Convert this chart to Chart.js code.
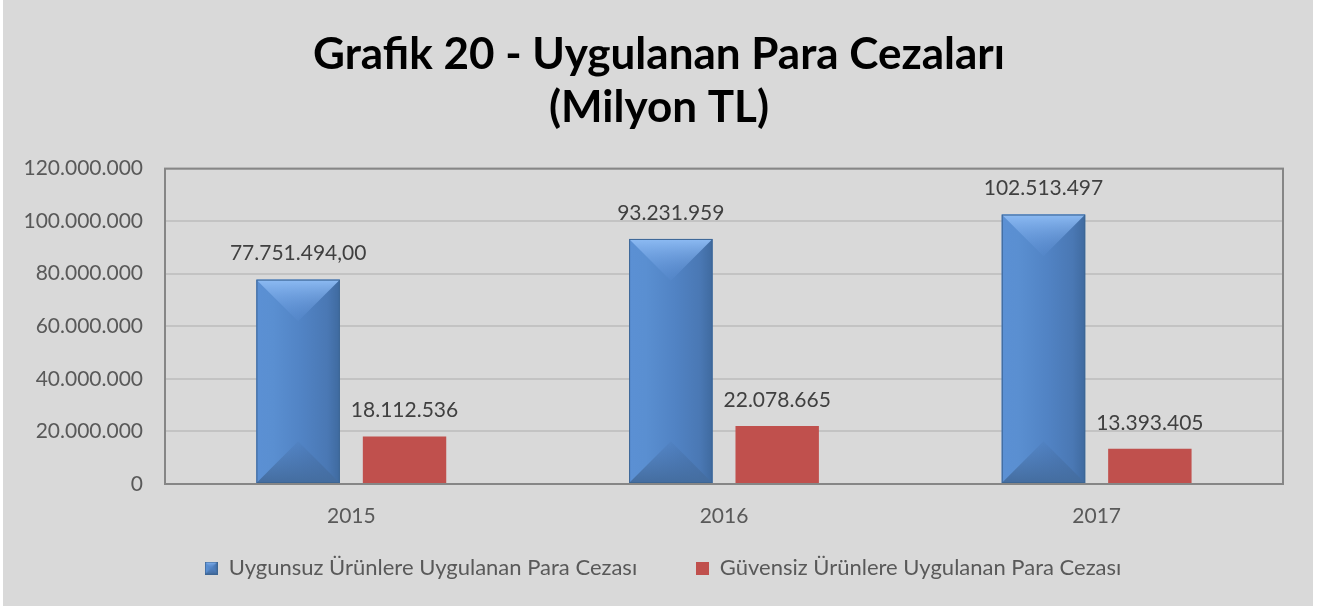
<!DOCTYPE html>
<html>
<head>
<meta charset="utf-8">
<script src="https://cdn.jsdelivr.net/npm/chart.js@4/dist/chart.umd.min.js"></script>
<style>
    body { margin: 0; background: #ffffff; }
    #wrap { position: absolute; left: 3px; top: 0; width: 1310px; height: 606px; background: #d9d9d9; }
</style>
</head>
<body>
<div id="wrap"><canvas id="chart"></canvas></div>
<script>
const years = ["2015", "2016", "2017"];
const uygunsuz = [77751494, 93231959, 102513497];
const guvensiz = [18112536, 22078665, 13393405];
const uygunsuzDecimals = [2, 0, 0];
const guvensizDecimals = [0, 0, 0];
const seriesNames = ["Uygunsuz Ürünlere Uygulanan Para Cezası", "Güvensiz Ürünlere Uygulanan Para Cezası"];
const yMax = 120000000;
const yStep = 20000000;

const FONT = "Lato";

// 1.234.567,00 biçimi
function formatTR(v, dec) {
    const parts = v.toFixed(dec).split(".");
    parts[0] = parts[0].replace(/\B(?=(\d{3})+(?!\d))/g, ".");
    return parts.join(",");
}

// Mavi çubuklar için eğimli kenar efekti
function drawBevel(ctx, left, top, right, bottom) {
    const w = right - left;
    const h = bottom - top;
    const cx = (left + right) / 2;
    const d = Math.min(w / 2, h / 2);

    const base = ctx.createLinearGradient(left, 0, right, 0);
    base.addColorStop(0, "#5b90d4");
    base.addColorStop(0.2, "#5a8fd1");
    base.addColorStop(0.55, "#5183c4");
    base.addColorStop(0.85, "#4a78b4");
    base.addColorStop(1, "#3f6a9f");
    ctx.fillStyle = base;
    ctx.fillRect(left, top, w, h);

    const topGrad = ctx.createLinearGradient(0, top, 0, top + d);
    topGrad.addColorStop(0, "#8dbbf3");
    topGrad.addColorStop(1, "rgba(95,145,215,0.15)");
    ctx.beginPath();
    ctx.moveTo(left, top);
    ctx.lineTo(right, top);
    ctx.lineTo(cx, top + d);
    ctx.closePath();
    ctx.fillStyle = topGrad;
    ctx.fill();

    const botGrad = ctx.createLinearGradient(0, bottom, 0, bottom - d);
    botGrad.addColorStop(0, "#446d9f");
    botGrad.addColorStop(1, "rgba(70,110,165,0.1)");
    ctx.beginPath();
    ctx.moveTo(left, bottom);
    ctx.lineTo(right, bottom);
    ctx.lineTo(cx, bottom - d);
    ctx.closePath();
    ctx.fillStyle = botGrad;
    ctx.fill();

    ctx.strokeStyle = "#3d6695";
    ctx.lineWidth = 1;
    ctx.strokeRect(left + 0.5, top + 0.5, w - 1, h - 1);
}

function makeMarker(kind) {
    const c = document.createElement("canvas");
    c.width = 13;
    c.height = 13;
    const g = c.getContext("2d");
    if (kind === "bevel") {
        drawBevel(g, 0, 0, 13, 13);
    } else {
        g.fillStyle = "#c0504d";
        g.fillRect(0, 0, 13, 13);
    }
    return c;
}

const plotBorder = {
    id: "plotBorder",
    beforeDatasetsDraw(chart) {
        const { ctx, chartArea: a } = chart;
        ctx.save();
        ctx.strokeStyle = "#868686";
        ctx.lineWidth = 2;
        ctx.strokeRect(a.left, a.top, a.right - a.left, a.bottom - a.top);
        ctx.restore();
    }
};

const bevelBars = {
    id: "bevelBars",
    afterDatasetDraw(chart, args) {
        if (args.index !== 0) return;
        const ctx = chart.ctx;
        ctx.save();
        args.meta.data.forEach(bar => {
            const p = bar.getProps(["x", "y", "base", "width"], true);
            drawBevel(ctx, p.x - p.width / 2, p.y, p.x + p.width / 2, p.base);
        });
        ctx.restore();
    }
};

const valueLabels = {
    id: "valueLabels",
    afterDatasetsDraw(chart) {
        const ctx = chart.ctx;
        const decs = [uygunsuzDecimals, guvensizDecimals];
        ctx.save();
        ctx.font = "21px " + FONT;
        ctx.fillStyle = "#404040";
        ctx.textAlign = "center";
        ctx.textBaseline = "middle";
        chart.data.datasets.forEach((ds, di) => {
            chart.getDatasetMeta(di).data.forEach((bar, i) => {
                const p = bar.getProps(["x", "y"], true);
                ctx.fillText(formatTR(ds.data[i], decs[di][i]), p.x, p.y - 26);
            });
        });
        ctx.restore();
    }
};

// başlık ve lejant biraz sağda duruyor
const blockShift = {
    id: "blockShift",
    afterLayout(chart) {
        chart.legend.left += 40;
        chart.titleBlock.left += 16;
        chart.titleBlock.right += 16;
    }
};

const ctx = document.getElementById("chart").getContext("2d");
const chart = new Chart(ctx, {
    type: "bar",
    data: {
        labels: years,
        datasets: [
            {
                label: seriesNames[0],
                data: uygunsuz,
                backgroundColor: "#4f81bd",
                pointStyle: makeMarker("bevel"),
                categoryPercentage: 0.571,
                barPercentage: 0.784
            },
            {
                label: seriesNames[1],
                data: guvensiz,
                backgroundColor: "#c0504d",
                pointStyle: makeMarker("flat"),
                categoryPercentage: 0.571,
                barPercentage: 0.784
            }
        ]
    },
    options: {
        responsive: true,
        maintainAspectRatio: false,
        animation: false,
        layout: { padding: { left: 0, right: 30, top: 0, bottom: 17 } },
        scales: {
            x: {
                grid: { display: false, drawTicks: false },
                border: { display: false },
                ticks: { color: "#595959", font: { family: FONT, size: 21 }, padding: 20 },
                afterFit(scale) { scale.height = 53; }
            },
            y: {
                min: 0,
                max: yMax,
                grid: { color: "#c3c3c3", lineWidth: 2, drawTicks: false },
                border: { display: false },
                ticks: {
                    stepSize: yStep,
                    color: "#595959",
                    font: { family: FONT, size: 21 },
                    padding: 22,
                    callback: v => formatTR(v, 0)
                },
                afterFit(scale) { scale.width = 162; }
            }
        },
        plugins: {
            title: {
                display: true,
                text: ["Grafik 20 - Uygulanan Para Cezaları", "(Milyon TL)"],
                color: "#000000",
                font: { family: FONT, size: 44, weight: "bold", lineHeight: 1.2 },
                padding: { top: 28.5, bottom: 34.5 }
            },
            legend: {
                position: "bottom",
                labels: {
                    usePointStyle: true,
                    boxWidth: 13,
                    boxHeight: 13,
                    padding: 20,
                    color: "#595959",
                    font: { family: FONT, size: 22 },
                    generateLabels(chart) {
                        const items = Chart.defaults.plugins.legend.labels.generateLabels(chart);
                        // ikinci öğeyle arayı açmak için
                        items[0].text = items[0].text + "\u2003\u2003 ";
                        return items;
                    }
                }
            },
            tooltip: { enabled: false }
        }
    },
    plugins: [plotBorder, bevelBars, valueLabels, blockShift]
});
</script>
</body>
</html>
